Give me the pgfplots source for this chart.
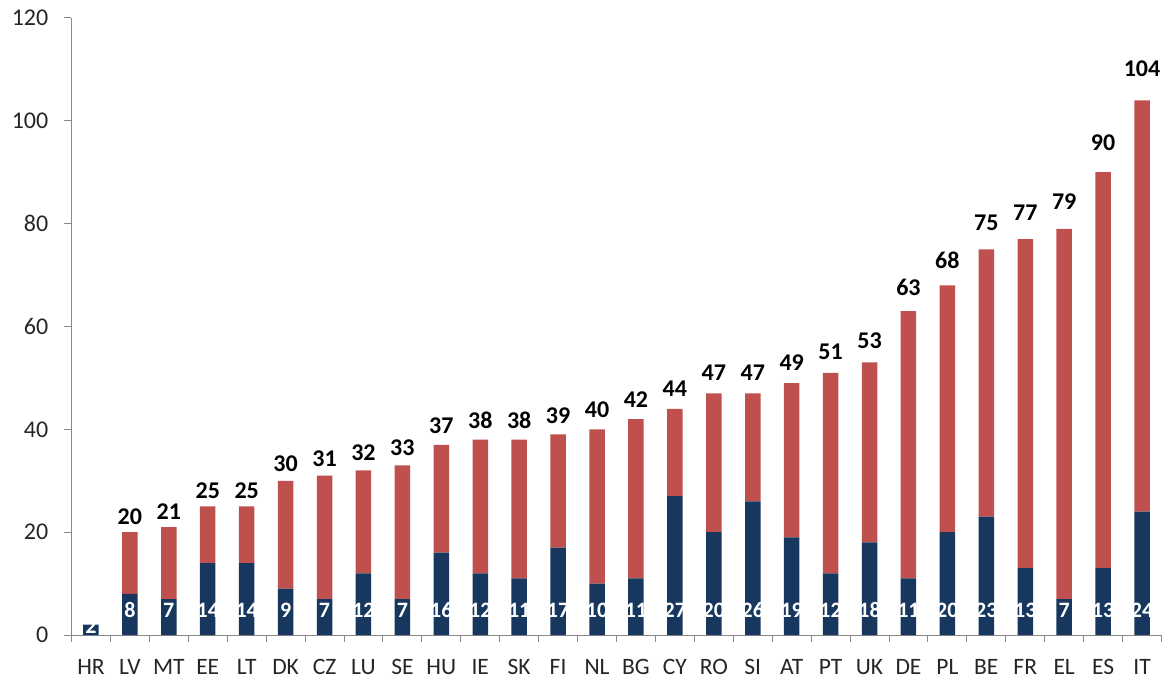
\documentclass[border=0pt]{standalone}
\usepackage{pgfplots}
\usepackage{pgfplotstable}
\pgfplotsset{compat=1.18}
\usepackage{fontspec}
\setmainfont{Carlito}
\definecolor{navy}{HTML}{17375E}
\definecolor{brick}{HTML}{C0504D}
\definecolor{axgray}{HTML}{898989}
\pgfplotsset{/pgf/number format/assume math mode=true}

\pgfplotstableread{
i name blue red total
0 HR 2 0 2
1 LV 8 12 20
2 MT 7 14 21
3 EE 14 11 25
4 LT 14 11 25
5 DK 9 21 30
6 CZ 7 24 31
7 LU 12 20 32
8 SE 7 26 33
9 HU 16 21 37
10 IE 12 26 38
11 SK 11 27 38
12 FI 17 22 39
13 NL 10 30 40
14 BG 11 31 42
15 CY 27 17 44
16 RO 20 27 47
17 SI 26 21 47
18 AT 19 30 49
19 PT 12 39 51
20 UK 18 35 53
21 DE 11 52 63
22 PL 20 48 68
23 BE 23 52 75
24 FR 13 64 77
25 EL 7 72 79
26 ES 13 77 90
27 IT 24 80 104
}\data

\begin{document}
\begin{tikzpicture}
\path[use as bounding box] (-71.5pt,-46pt) rectangle (1095.5pt,635pt);
\begin{axis}[
  at={(0,0)}, anchor=south west,
  scale only axis, width=1090pt, height=617pt,
  xmin=-0.5, xmax=27.5, ymin=0, ymax=120,
  ybar stacked, bar width=15.5pt,
  axis x line*=bottom, axis y line*=left,
  axis line style={axgray, line width=1pt},
  xtick={0,...,27},
  xticklabels from table={\data}{name},
  major x tick style={draw=none},
  minor xtick={-0.5,0.5,...,27.5},
  ytick={0,20,...,120},
  tick align=outside,
  tick style={axgray, line width=1pt},
  major tick length=7pt, minor tick length=7pt,
  yticklabel style={font=\fontsize{24}{24}\selectfont, inner sep=0pt, xshift=-16pt, text=black!85},
  xticklabel style={font=\fontsize{23.5}{23.5}\selectfont, inner sep=0pt, yshift=-17pt, text=black!85},
  clip=false,
]
\addplot[fill=navy, draw=none] table[x=i,y=blue]{\data};
\addplot[fill=brick, draw=none] table[x=i,y=red]{\data};
\end{axis}
\begin{axis}[
  at={(0,0)}, anchor=south west,
  scale only axis, width=1090pt, height=617pt,
  xmin=-0.5, xmax=27.5, ymin=0, ymax=115.5,
  axis lines=none, clip=false,
]
\addplot[draw=none, mark=none, nodes near coords, point meta=explicit,
  every node near coord/.style={anchor=south, inner sep=0pt, yshift=3pt,
    font=\bfseries\fontsize{24}{24}\selectfont, text=black},
  skip coords between index={0}{1}]
  table[x=i, y=total, meta=total]{\data};
\addplot[draw=none, mark=none, nodes near coords, point meta=explicit,
  every node near coord/.style={anchor=south, inner sep=0pt, yshift=17pt,
    font=\bfseries\fontsize{22}{22}\selectfont, text=white},
  skip coords between index={0}{1}]
  table[x=i, y expr=0, meta=blue]{\data};
\addplot[draw=none, mark=none, nodes near coords, point meta=explicit,
  every node near coord/.style={anchor=south, inner sep=0pt, yshift=1pt,
    font=\bfseries\fontsize{22}{22}\selectfont, text=white},
  skip coords between index={1}{28}]
  table[x=i, y expr=0, meta=blue]{\data};
\end{axis}
\end{tikzpicture}
\end{document}
